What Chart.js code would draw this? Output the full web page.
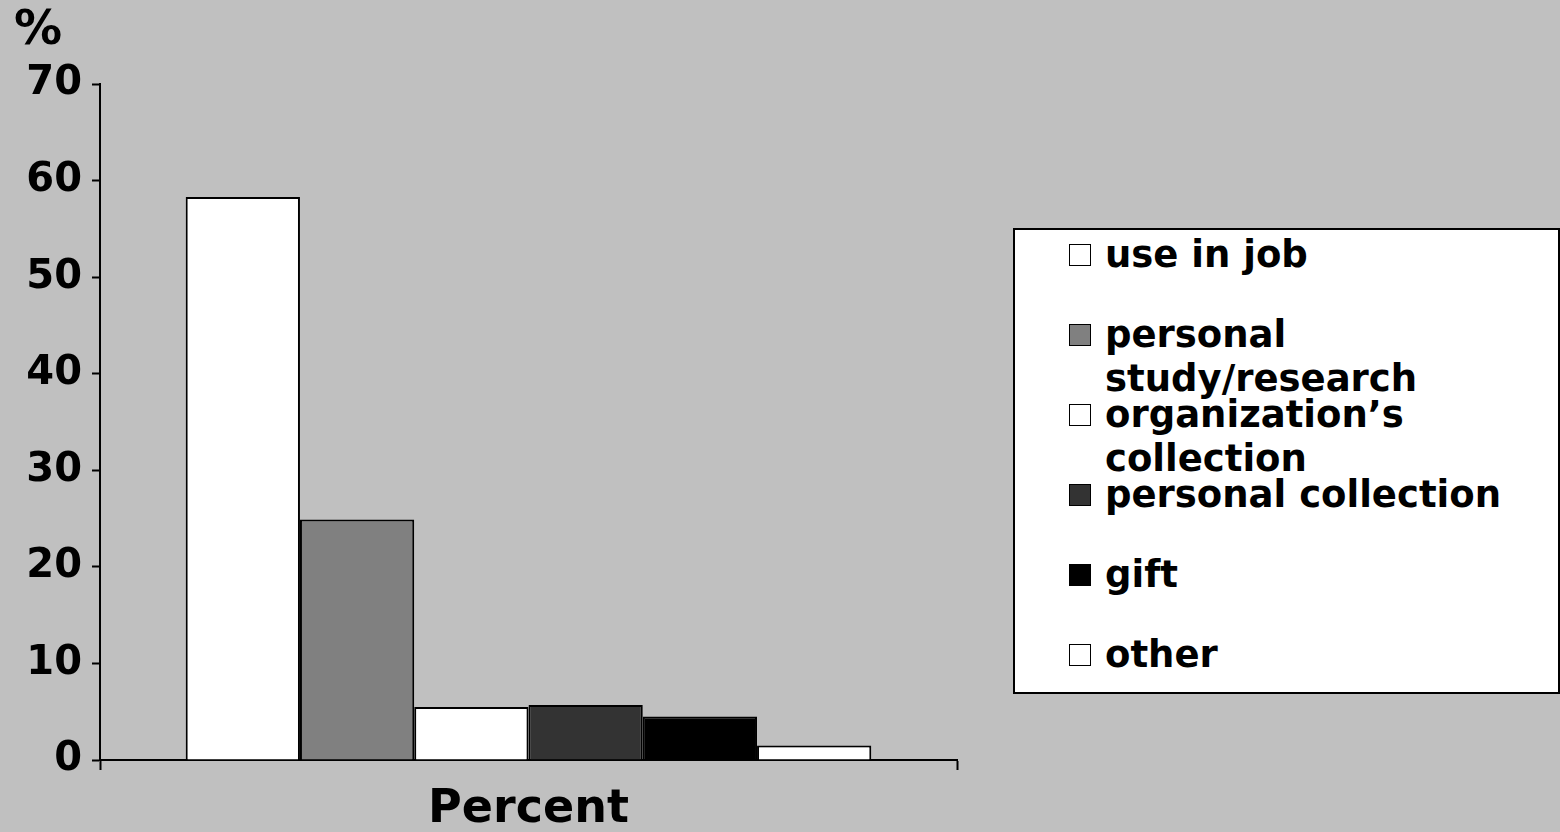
<!DOCTYPE html>
<html>
<head>
<meta charset="utf-8">
<script src="https://cdn.jsdelivr.net/npm/chart.js@4/dist/chart.umd.min.js"></script>
<style>
  html, body { margin: 0; padding: 0; background: #c0c0c0; }
  #wrap { position: relative; width: 1560px; height: 832px; overflow: hidden; }
  #chart { position: absolute; left: 0; top: 0; }
  #legend {
    position: absolute; left: 1013px; top: 228px; width: 543px; height: 462px;
    background: #fff; border: 2px solid #000;
    font: bold 37px 'DejaVu Sans', sans-serif; color: #000;
  }
  .item { position: absolute; left: 90px; width: 440px; line-height: 44px; }
  .swatch {
    position: absolute; left: -36px; top: 11px; width: 20px; height: 20px;
    border: 1.5px solid #000;
  }
</style>
</head>
<body>
<div id="wrap">
  <canvas id="chart" width="1560" height="832"></canvas>
  <div id="legend"></div>
</div>
<script>
// values
const categories = ['Percent'];
const seriesNames = [
  'use in job',
  'personal study/research',
  'organization’s collection',
  'personal collection',
  'gift',
  'other',
];
const seriesValues = [58.3, 24.9, 5.5, 5.7, 4.5, 1.5];
const seriesColors = ['#ffffff', '#808080', '#ffffff', '#333333', '#000000', '#ffffff'];
const yMin = 0, yMax = 70, yStep = 10;

const FONT = "'DejaVu Sans', sans-serif";

// "%" unit label above the y axis
const unitLabel = {
  id: 'unitLabel',
  afterDraw(chart) {
    const ctx = chart.ctx;
    ctx.save();
    ctx.font = `bold 48px ${FONT}`;
    ctx.fillStyle = '#000';
    ctx.textBaseline = 'alphabetic';
    ctx.fillText('%', 14, 44);
    ctx.restore();
  },
};

const chart = new Chart(document.getElementById('chart'), {
  type: 'bar',
  data: {
    labels: categories,
    datasets: seriesNames.map((name, i) => ({
      label: name,
      data: [seriesValues[i]],
      backgroundColor: seriesColors[i],
      borderColor: '#000',
      borderWidth: 2,
      borderSkipped: 'bottom',
      categoryPercentage: 0.8,
      barPercentage: 1.0,
    })),
  },
  options: {
    responsive: false,
    animation: false,
    layout: { padding: { left: 0, top: 84, right: 603, bottom: 0 } },
    plugins: { legend: { display: false }, tooltip: { enabled: false }, title: { display: false } },
    scales: {
      x: {
        grid: { drawOnChartArea: false, tickLength: 10, tickWidth: 2, tickColor: '#000', offset: true },
        border: { color: '#000', width: 2 },
        ticks: { color: '#000', font: { family: FONT, size: 46, weight: 'bold' }, padding: 12 },
        afterFit(scale) { scale.height = 72; },
      },
      y: {
        min: yMin, max: yMax,
        grid: { drawOnChartArea: false, tickLength: 8, tickWidth: 2, tickColor: '#000' },
        border: { color: '#000', width: 2 },
        ticks: { stepSize: yStep, color: '#000', font: { family: FONT, size: 40, weight: 'bold' }, padding: 10 },
        afterFit(scale) { scale.width = 100; },
      },
    },
  },
  plugins: [unitLabel],
});

// legend box, built from the chart's own datasets
const legendEl = document.getElementById('legend');
chart.data.datasets.forEach((ds, i) => {
  const item = document.createElement('div');
  item.className = 'item';
  item.style.top = (3 + 80 * i) + 'px';
  const sw = document.createElement('span');
  sw.className = 'swatch';
  sw.style.background = ds.backgroundColor;
  item.appendChild(sw);
  item.appendChild(document.createTextNode(ds.label));
  legendEl.appendChild(item);
});
</script>
</body>
</html>
